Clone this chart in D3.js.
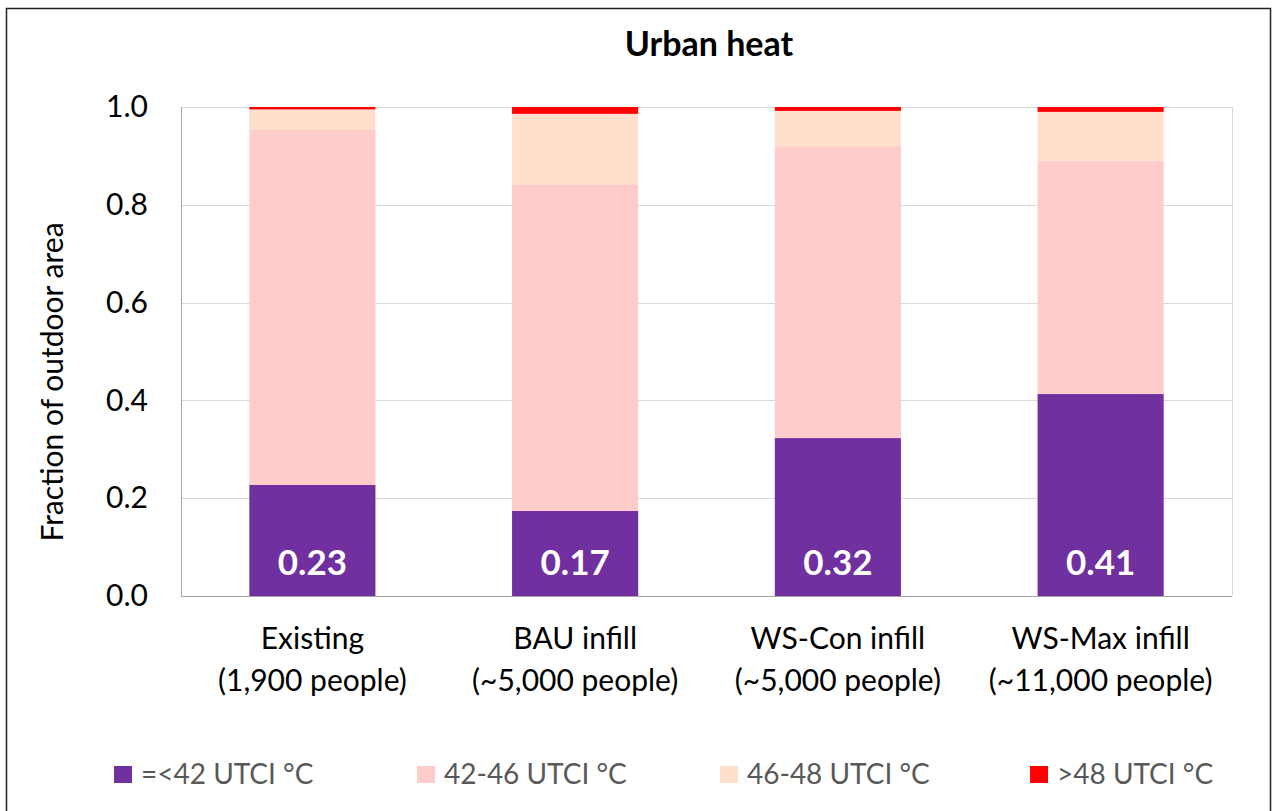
<!DOCTYPE html>
<html>
<head>
<meta charset="utf-8">
<script src="https://cdn.jsdelivr.net/npm/d3@7"></script>
<style>
	html, body { margin: 0; padding: 0; background: #fff; }
	svg { display: block; font-family: Lato, "Open Sans", sans-serif; }
</style>
</head>
<body>
<svg id="chart" width="1272" height="811"></svg>
<script>
;(() => {
	'use strict';

	// chart data
	const categories = ['Existing|(1,900 people)', 'BAU infill|(~5,000 people)', 'WS-Con infill|(~5,000 people)', 'WS-Max infill|(~11,000 people)'];
	const seriesNames = ['=<42 UTCI °C', '42-46 UTCI °C', '46-48 UTCI °C', '>48 UTCI °C'];
	const below42 = [0.227, 0.174, 0.323, 0.413];
	const from42to46 = [0.726, 0.668, 0.597, 0.477];
	const from46to48 = [0.042, 0.144, 0.072, 0.100];
	const above48 = [0.005, 0.014, 0.008, 0.010];
	const barLabels = ['0.23', '0.17', '0.32', '0.41'];
	const yTicks = [0, 0.2, 0.4, 0.6, 0.8, 1.0];

	const colors = ['#7030a0', '#ffcccc', '#fee0cc', '#ff0000'];

	const svg = d3.select('#chart'),
		margin = {top: 107, right: 40, bottom: 215, left: 181},
		width = 1232 - margin.left,
		height = 596 - margin.top;

	// outer chart frame
	svg.append('rect')
		.attr('x', 6.5).attr('y', 8.5)
		.attr('width', 1264).attr('height', 812)
		.attr('fill', 'none')
		.attr('stroke', '#222')
		.attr('stroke-width', 1.5);

	// title
	svg.append('text')
		.attr('x', 709).attr('y', 56)
		.attr('text-anchor', 'middle')
		.attr('font-size', 34)
		.attr('font-weight', 'bold')
		.attr('fill', '#000')
		.text('Urban heat');

	const g = svg.append('g')
		.attr('transform', `translate(${margin.left},${margin.top})`);

	const x = d3.scaleBand().domain(categories).range([0, width]).paddingInner(0.52).paddingOuter(0.26);
	const y = d3.scaleLinear().domain([0, 1]).range([height, 0]);

	// grid lines
	g.selectAll('.grid')
		.data(yTicks.slice(1))
		.enter()
		.append('line')
		.attr('x1', 0).attr('x2', width)
		.attr('y1', d => Math.round(y(d)) + 0.5)
		.attr('y2', d => Math.round(y(d)) + 0.5)
		.attr('stroke', '#d9d9d9')
		.attr('stroke-width', 1);

	// right border of plot area
	g.append('line')
		.attr('x1', width + 0.5).attr('x2', width + 0.5)
		.attr('y1', 0).attr('y2', height)
		.attr('stroke', '#d9d9d9');

	// stack the series
	const rows = categories.map((c, i) => ({
		cat: c,
		s0: below42[i], s1: from42to46[i], s2: from46to48[i], s3: above48[i]
	}));
	const stack = d3.stack().keys(['s0', 's1', 's2', 's3'])(rows);

	g.selectAll('.layer')
		.data(stack)
		.enter()
		.append('g')
		.attr('fill', (d, i) => colors[i])
		.selectAll('rect')
		.data(d => d)
		.enter()
		.append('rect')
		.attr('x', d => x(d.data.cat))
		.attr('width', x.bandwidth())
		.attr('y', d => y(d[1]))
		.attr('height', d => y(d[0]) - y(d[1]));

	// value labels inside purple bars
	g.selectAll('.bar-label')
		.data(barLabels)
		.enter()
		.append('text')
		.attr('x', (d, i) => x(categories[i]) + x.bandwidth() / 2)
		.attr('y', height - 21)
		.attr('text-anchor', 'middle')
		.attr('font-size', 35)
		.attr('font-weight', 'bold')
		.attr('fill', '#fff')
		.text(d => d);

	// axes lines
	g.append('line')
		.attr('x1', 0.5).attr('x2', 0.5)
		.attr('y1', 0).attr('y2', height)
		.attr('stroke', '#a6a6a6');
	g.append('line')
		.attr('x1', 0).attr('x2', width)
		.attr('y1', height + 0.5).attr('y2', height + 0.5)
		.attr('stroke', '#a6a6a6');

	// y tick labels
	const yAxis = g.append('g')
		.call(d3.axisLeft(y).tickValues(yTicks).tickFormat(d3.format('.1f')).tickSize(0).tickPadding(33));
	yAxis.select('.domain').remove();
	yAxis.selectAll('text')
		.attr('font-family', 'Lato, sans-serif')
		.attr('font-size', 30)
		.attr('fill', '#000');

	// x category labels (two lines each)
	const xLabels = g.selectAll('.x-label')
		.data(categories)
		.enter()
		.append('text')
		.attr('text-anchor', 'middle')
		.attr('font-size', 30)
		.attr('fill', '#000')
		.attr('transform', d => `translate(${x(d) + x.bandwidth() / 2},${height + 53})`);
	xLabels.selectAll('tspan')
		.data(d => d.split('|'))
		.enter()
		.append('tspan')
		.attr('x', 0)
		.attr('dy', (d, i) => i === 0 ? 0 : 42)
		.text(d => d);

	// y axis title
	svg.append('text')
		.attr('transform', 'translate(63,382) rotate(-90)')
		.attr('text-anchor', 'middle')
		.attr('font-size', 30)
		.attr('fill', '#000')
		.text('Fraction of outdoor area');

	// legend
	const legendX = [114, 417, 720, 1030];
	const legend = svg.selectAll('.legend')
		.data(seriesNames)
		.enter()
		.append('g')
		.attr('transform', (d, i) => `translate(${legendX[i]},766)`);
	legend.append('rect')
		.attr('width', 18).attr('height', 17)
		.attr('fill', (d, i) => colors[i]);
	legend.append('text')
		.attr('x', 27).attr('y', 18)
		.attr('font-size', 28)
		.attr('fill', '#595959')
		.text(d => d);
})();
</script>
</body>
</html>
